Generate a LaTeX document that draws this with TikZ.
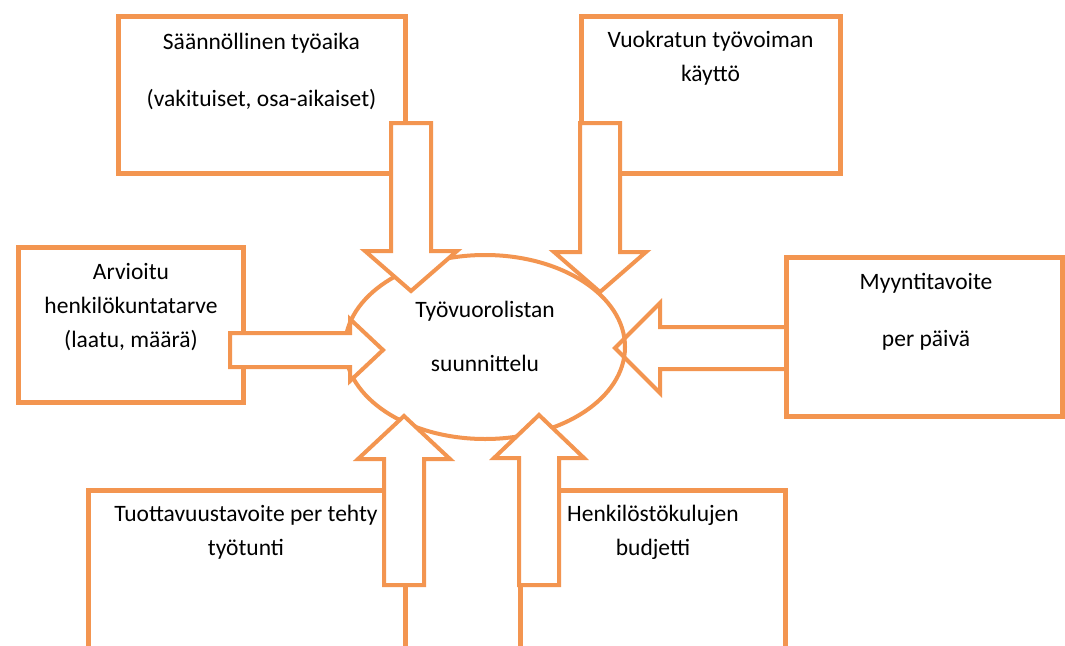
\documentclass[tikz,border=0pt]{standalone}
\usepackage{fontspec}
\setmainfont{Carlito}
\usetikzlibrary{calc,shapes.geometric}
\definecolor{accent}{HTML}{F39550}

% block arrow: start, tip, shaft half width, head half width, head length
\newcommand{\blockarrow}[5]{%
  \coordinate (hb) at ($(#2)!#5!(#1)$);
  \draw[arr] ($(#1)!#3!90:(#2)$) -- ($(hb)!#3!90:(#2)$) -- ($(hb)!#4!90:(#2)$) -- (#2)
    -- ($(hb)!#4!-90:(#2)$) -- ($(hb)!#3!-90:(#2)$) -- ($(#1)!#3!-90:(#2)$) -- cycle;}

\begin{document}
\begin{tikzpicture}[x=1pt,y=-1pt,font=\fontsize{23.5}{34}\selectfont]
\tikzstyle{b}=[draw=accent,line width=5pt,fill=white,inner sep=0pt]
\tikzstyle{t}=[align=center,inner sep=0pt]
\tikzstyle{arr}=[draw=accent,line width=4pt,fill=white,miter limit=20]
\useasboundingbox (0,0) rectangle (1065,645);
\clip (0,0) rectangle (1065,645);
\fill[white] (0,0) rectangle (1065,645);
% input boxes
\node[b,minimum width=287pt,minimum height=157pt] (tyoaika) at (261.5,94.5) {};
\node[b,minimum width=259pt,minimum height=157pt] (vuokra) at (710.5,94.5) {};
\node[b,minimum width=225pt,minimum height=155pt] (tarve) at (130.5,324.5) {};
\node[b,minimum width=276pt,minimum height=159pt] (myynti) at (924,336.5) {};
\node[b,minimum width=317pt,minimum height=270pt] (tuotto) at (246.5,625) {};
\node[b,minimum width=265pt,minimum height=270pt] (kulut) at (652.5,625) {};
\node[t] (tyoaikat) at (261.5,71.5) {Säännöllinen työaika\\[23pt](vakituiset, osa-aikaiset)};
\node[t] (vuokrat) at (710.5,58.5) {Vuokratun työvoiman\\käyttö};
\node[t] (tarvet) at (131,307.5) {Arvioitu\\henkilökuntatarve\\(laatu, määrä)};
\node[t] (myyntit) at (926,311.5) {Myyntitavoite\\[23pt]per päivä};
\node[t] (tuottot) at (246,532.5) {Tuottavuustavoite per tehty\\työtunti};
\node[t] (kulutt) at (653,532.5) {Henkilöstökulujen\\budjetti};
% arrow ends
\coordinate (a1s) at (411,123); \coordinate (a1t) at (411,291);
\coordinate (a2s) at (600,123); \coordinate (a2t) at (600,292);
\coordinate (a3s) at (230,350); \coordinate (a3t) at (383,350);
\coordinate (a4s) at (786,348); \coordinate (a4t) at (615,348);
\coordinate (a5s) at (404,585); \coordinate (a5t) at (404,416);
\coordinate (a6s) at (539,585); \coordinate (a6t) at (539,415);
\blockarrow{a4s}{a4t}{21pt}{45pt}{45pt}
% planning ellipse
\node[ellipse,draw=accent,line width=4pt,minimum width=280pt,minimum height=184pt] (suunn) at (485,347) {};
\node[t] (suunnt) at (485,336) {Työvuorolistan\\[20pt]suunnittelu};
\blockarrow{a1s}{a1t}{20pt}{46pt}{40pt}
\blockarrow{a2s}{a2t}{20pt}{46pt}{40pt}
\blockarrow{a3s}{a3t}{17pt}{31pt}{33pt}
\blockarrow{a5s}{a5t}{20pt}{46pt}{43pt}
\blockarrow{a6s}{a6t}{20pt}{45pt}{43pt}
\end{tikzpicture}
\end{document}
